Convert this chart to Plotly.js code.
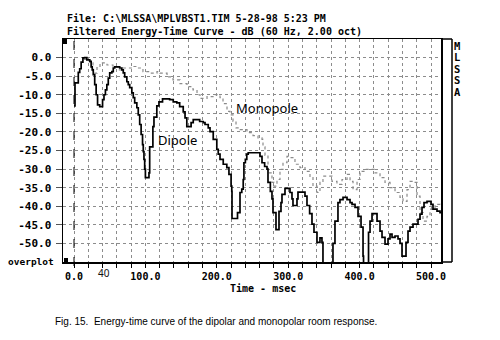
<!DOCTYPE html>
<html>
<head>
<meta charset="utf-8">
<script src="https://cdn.plot.ly/plotly-3.0.1.min.js"></script>
<style>html,body{margin:0;padding:0;background:#fff;}#chart{width:500px;height:340px;}</style>
</head>
<body>
<div id="chart"></div>
<script>
// ---- Data ----
const dipoleTime = [0,1.4,5,6,8,10,12.5,15,18,22,24,25.5,27,29,31,33,36,40,42,44,46,48,50,53,55,57,62,64,67,69,71,74,76,78,81,83,85,88,90,92,94,96,97,98,99,100,104,105,106,109,110.5,112,116,119,124,134,139,144,148,153,155.5,158,161,164,167,172,176,181,183.5,188,190.5,195,200,202,204.5,209,214,217,220,221,221.3,228,229,231,232.5,235,237,238,240,242,244,258,260.5,263.3,267,270.3,271.7,275,277.3,278.7,282.9,287.1,289.9,291.3,295.5,302.5,305.3,306.7,312.3,313.7,323.5,326.3,330,333.3,336.1,340.3,344.5,347.3,348.7,361.3,362.7,365.5,369.7,372.5,376.8,382.4,386.6,389.4,393.6,397.8,402,404.8,405.5,411.8,412.5,414.6,417.4,421.6,424.4,428.6,431.4,435.6,439.8,442.6,445.4,449.6,453.8,456.6,459.4,465,467.8,470.6,474.8,481.8,484.6,487.4,490.2,494.4,500,502.8,508.4,512.6,514];
const dipoleDb = [-13,-6.8,-6.8,-4,-3,-1.2,-0.1,0,-0.6,-1,-2.5,-3.3,-4.6,-7.3,-10,-12.7,-13.2,-11.3,-10,-8.7,-7.3,-5.5,-4.1,-3.8,-2.8,-2.5,-2.5,-2.8,-3.3,-4.1,-5.2,-6.5,-7.3,-8.1,-9.5,-10.8,-12.2,-13.5,-15.4,-18,-20.7,-23.4,-25.3,-27.4,-30,-32.3,-32.3,-31,-24,-24,-18.6,-16,-13,-11.9,-11.1,-11.3,-11.9,-12.2,-13.2,-14.6,-16.2,-18.6,-18.6,-17.5,-16.7,-16.7,-17.2,-17.5,-18,-18.9,-19.9,-22,-24.7,-26,-27.4,-28.7,-29.6,-31.4,-34.6,-36,-43.3,-43.3,-41.7,-41.7,-36.3,-35.4,-32.8,-28.3,-27.4,-26,-25.6,-25.6,-26.6,-28.3,-29.3,-30,-33.6,-36,-38,-41.7,-46.3,-41.4,-39,-36.8,-35.2,-36.3,-38,-39.8,-38,-36.2,-37.3,-39.8,-42,-44.8,-47,-49.7,-48.5,-49.7,-60,-60,-50,-44,-39,-38.2,-37.6,-38.2,-39,-39.5,-40.3,-42.7,-45.6,-53.4,-60,-60,-47,-44,-42,-42,-44,-46.7,-48.4,-50.2,-48.8,-47.5,-48.4,-48,-48.8,-50,-53.4,-49.7,-46.7,-45.6,-44.8,-43.5,-42.1,-40.3,-39,-38.7,-39.5,-40.8,-41.3,-41.7,-41.7];

const monopoleTime = [14,22.4,26.6,29.4,32.2,36.4,46.2,54.6,61.6,68.6,81.2,88.2,96.6,106.4,116.2,120.4,130.3,138.7,148.5,158.3,166.7,172.3,176.5,186.3,194.7,200.3,204.5,208.7,214.3,218.5,222.7,226.9,232.5,242.3,250.7,257.7,263.3,264.7,267.5,271.7,277.3,280.1,284.3,288.5,292.7,298.3,302.5,309.5,316.5,323.5,330.5,334.7,340.3,344.5,348.7,354.3,361.3,368.3,375.4,382.4,386.6,390.8,396.4,400.6,407.6,414.6,421.6,428.6,435.6,442.6,449.6,456.6,460.8,466.4,470.6,474.8,480.4,484.6,488.8,494.4,498.6,505.6,512.6];
const monopoleDb = [-0.5,-1.4,-3.8,-4.2,-2.7,-1.4,-2,-2.5,-3.3,-2.8,-2.4,-2.8,-3.8,-4.2,-3.8,-4.2,-5.2,-6,-7,-7.8,-8.7,-10,-11,-10.5,-10,-10,-10.8,-12.4,-14.5,-15.4,-17.2,-18.9,-19.4,-20.2,-21,-21.6,-22,-24,-26.3,-31,-33.6,-34.6,-32.8,-30.1,-28.3,-26.6,-26.9,-28.7,-29.6,-30.6,-32.3,-34.6,-36.3,-33.6,-31.9,-31.9,-33.3,-34.1,-32.8,-31.4,-33.3,-35.5,-32.8,-30.6,-30.1,-30.1,-31,-32.3,-33.6,-35,-36.3,-37.6,-38.7,-35.5,-33.3,-33.6,-37.3,-41.7,-44,-42.7,-40.8,-39.5,-40];

const xTickVals = [0,20,40,60,80,100,120,140,160,180,200,220,240,260,280,300,320,340,360,380,400,420,440,460,480,500];
const xTickLabels = ["0.0","","","","","100.0","","","","","200.0","","","","","300.0","","","","","400.0","","","","","500.0"];
const yTickVals = [0,-5,-10,-15,-20,-25,-30,-35,-40,-45,-50];
const yTickLabels = ["0.0","-5.0","-10.0","-15.0","-20.0","-25.0","-30.0","-35.0","-40.0","-45.0","-50.0"];

const titleLine1 = "File: C:\\MLSSA\\MPLVBST1.TIM 5-28-98 5:23 PM";
const titleLine2 = "Filtered Energy-Time Curve - dB (60 Hz, 2.00 oct)";
const xTitle = "Time - msec";
const caption = "Fig. 15.  Energy-time curve of the dipolar and monopolar room response.";
const sideLetters = ["M","L","S","S","A"];

// ---- Layout geometry (pixels) ----
const W = 500, H = 340, L = 63, R = 441, T = 39, B = 262;
const px = x => (x - L) / (R - L);
const py = y => (B - y) / (B - T);
const mono = "DejaVu Sans Mono, Liberation Mono, monospace";
const hand = "Noto Sans, DejaVu Sans, sans-serif";

const traces = [
  {x: monopoleTime, y: monopoleDb, mode: 'lines', line: {color: '#8a8a8a', width: 1.2, dash: 'dot', shape: 'hv'}, name: 'Monopole', hoverinfo: 'skip'},
  {x: dipoleTime, y: dipoleDb, mode: 'lines', line: {color: '#000', width: 1.7, shape: 'hv'}, name: 'Dipole', hoverinfo: 'skip'}
];

const annotations = [
  {text: titleLine1, x: px(65), y: py(19), xanchor: 'left', yanchor: 'middle', font: {family: mono, size: 10, weight: 'bold', color: '#000'}},
  {text: titleLine2, x: px(65), y: py(32), xanchor: 'left', yanchor: 'middle', font: {family: mono, size: 10, weight: 'bold', color: '#000'}},
  {text: xTitle, x: px(228), y: py(288), xanchor: 'left', yanchor: 'middle', font: {family: mono, size: 10, weight: 'bold', color: '#000'}},
  {text: "overplot", x: px(56), y: py(261), xanchor: 'right', yanchor: 'middle', font: {family: mono, size: 9.5, weight: 'bold', color: '#000'}},
  {text: "40", x: px(104), y: py(273), xanchor: 'center', yanchor: 'middle', font: {family: hand, size: 10, color: '#111'}},
  {text: "Monopole", x: px(234), y: py(108), xanchor: 'left', yanchor: 'middle', font: {family: hand, size: 13, color: '#000'}},
  {text: "Dipole", x: px(156), y: py(140), xanchor: 'left', yanchor: 'middle', font: {family: hand, size: 13, color: '#000'}},
  {text: caption, x: px(53), y: py(321), xanchor: 'left', yanchor: 'middle', font: {family: "Liberation Sans, Arial, sans-serif", size: 10, color: '#000'}}
];
const letterY = [46, 57, 69, 80, 92];
sideLetters.forEach((s, i) => annotations.push({text: s, x: px(457), y: py(letterY[i]), xanchor: 'center', yanchor: 'middle', font: {family: mono, size: 10.5, weight: 'bold', color: '#000'}}));
annotations.forEach(a => { a.xref = 'paper'; a.yref = 'paper'; a.showarrow = false; });

const shapes = [
  {type: 'line', xref: 'x', yref: 'paper', x0: 0, x1: 0, y0: py(266), y1: 1, line: {color: '#000', width: 1, dash: 'dash'}},
  {type: 'line', xref: 'paper', yref: 'paper', x0: 1, x1: px(452), y0: 1, y1: 1, line: {color: '#000', width: 1.5}},
  {type: 'line', xref: 'paper', yref: 'paper', x0: px(452), x1: px(452), y0: 0, y1: 1, line: {color: '#000', width: 1.5}},
  {type: 'line', xref: 'paper', yref: 'paper', x0: 1, x1: px(452), y0: 0, y1: 0, line: {color: '#000', width: 1.5}},
  {type: 'rect', xref: 'paper', yref: 'paper', x0: px(63), x1: px(67), y0: py(44), y1: py(39), fillcolor: '#000', line: {width: 0}},
  {type: 'rect', xref: 'paper', yref: 'paper', x0: px(64), x1: px(68), y0: py(262), y1: py(258), fillcolor: '#000', line: {width: 0}}
];

const layout = {
  width: W, height: H,
  margin: {l: L, r: W - R, t: T, b: H - B, pad: 0},
  paper_bgcolor: '#fff', plot_bgcolor: '#fff',
  showlegend: false,
  xaxis: {
    range: [-15.4, 514], tickmode: 'array', tickvals: xTickVals, ticktext: xTickLabels,
    ticks: 'outside', ticklen: 4, tickcolor: '#000', tickwidth: 1,
    showgrid: true, gridcolor: '#8c8c8c', griddash: 'dot', gridwidth: 1,
    zeroline: false, showline: true, linecolor: '#000', linewidth: 1.5, mirror: true,
    tickfont: {family: mono, size: 10, weight: 'bold', color: '#000'}
  },
  yaxis: {
    range: [-55, 5], tickmode: 'array', tickvals: yTickVals, ticktext: yTickLabels,
    ticks: 'outside', ticklen: 6, tickcolor: '#555', tickwidth: 1,
    showgrid: true, gridcolor: '#8c8c8c', griddash: 'dot', gridwidth: 1,
    zeroline: false, showline: true, linecolor: '#000', linewidth: 1.5, mirror: true,
    tickfont: {family: mono, size: 11, weight: 'bold', color: '#000'}, ticklabelstandoff: 2
  },
  annotations: annotations,
  shapes: shapes
};

Plotly.newPlot('chart', traces, layout, {staticPlot: true, displayModeBar: false});
</script>
</body>
</html>
